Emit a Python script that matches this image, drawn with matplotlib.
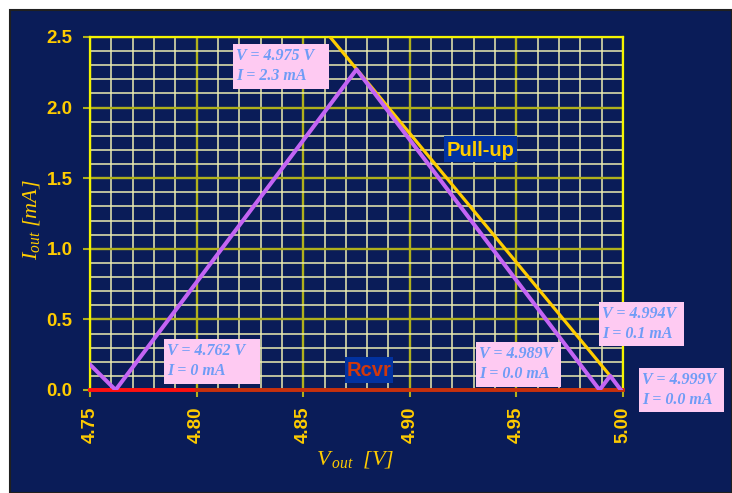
import matplotlib
matplotlib.use("Agg")
import matplotlib.pyplot as plt
from matplotlib.patches import Rectangle
from matplotlib.ticker import MultipleLocator

# Output current vs output voltage
pullup_v = [4.8626, 4.994]
pullup_i = [2.50, 0.10]

out_v = [4.750, 4.762, 4.875, 4.989, 4.994, 4.999]
out_i = [0.18, 0.00, 2.27, 0.00, 0.10, 0.00]

rcvr_v_a = [4.75, 4.80]
rcvr_v_b = [4.80, 5.00]
rcvr_i = [0.0, 0.0]

x_ticks = [4.75, 4.80, 4.85, 4.90, 4.95, 5.00]
y_ticks = [0.0, 0.5, 1.0, 1.5, 2.0, 2.5]

notes = [
    ("V = 4.975 V\nI = 2.3 mA", (233, 44, 96, 45)),
    ("V = 4.762 V\nI = 0 mA", (164, 339, 96, 45)),
    ("V = 4.989V\nI = 0.0 mA", (476, 342, 85, 45)),
    ("V = 4.994V\nI = 0.1 mA", (599, 302, 85, 44)),
    ("V = 4.999V\nI = 0.0 mA", (639, 368, 85, 44)),
]

W, H = 732, 493
NAVY = "#0a1c58"
GOLD = "#ffcc00"
NOTE_BLUE = "#6f9cf6"

plt.rcParams["mathtext.fontset"] = "custom"
plt.rcParams["mathtext.it"] = "Liberation Serif:italic"
plt.rcParams["mathtext.rm"] = "Liberation Serif:italic"

fig = plt.figure(figsize=(W / 100, H / 100), dpi=100)
fig.patch.set_facecolor("white")

def px_rect(x, y, w, h):
    return (x / W, 1 - (y + h) / H, w / W, h / H)

# dark panel behind the chart
fig.patches.append(Rectangle((10 / W, 0), 1 - 10 / W, 1 - 10 / H,
                             transform=fig.transFigure, facecolor=NAVY,
                             edgecolor="#202020", linewidth=1.5, zorder=-5))

ax = fig.add_axes([90 / W, 1 - 390 / H, (623 - 90) / W, (390 - 37) / H])
ax.set_zorder(1)
ax.set_facecolor(NAVY)
ax.set_xlim(4.75, 5.00)
ax.set_ylim(0, 2.5)

ax.xaxis.set_major_locator(MultipleLocator(0.05))
ax.xaxis.set_minor_locator(MultipleLocator(0.01))
ax.yaxis.set_major_locator(MultipleLocator(0.5))
ax.yaxis.set_minor_locator(MultipleLocator(0.1))
ax.grid(which="minor", color="#ececb0", linewidth=1.1, zorder=1)
ax.grid(which="major", color="#b0b01c", linewidth=1.7, zorder=1)
ax.set_axisbelow(True)

for side in ["left", "top", "right", "bottom"]:
    ax.spines[side].set_color("#f4f400")
    ax.spines[side].set_linewidth(1.6)

ax.set_xticks(x_ticks)
ax.set_yticks(y_ticks)
ax.set_xticklabels([f"{v:.2f}" for v in x_ticks], rotation=90)
ax.set_yticklabels([f"{v:.1f}" for v in y_ticks])
ax.tick_params(which="major", direction="out", length=5, width=1.5,
               color="#b0b01c", labelcolor=GOLD, labelsize=13.5)
ax.tick_params(axis="y", which="major", pad=7.5)
ax.tick_params(axis="x", which="major", pad=7)
ax.tick_params(which="minor", length=0)
for lab in ax.get_xticklabels() + ax.get_yticklabels():
    lab.set_fontweight("bold")
    lab.set_family("Liberation Sans")

ax.plot(rcvr_v_a, rcvr_i, color="#ff1010", linewidth=2.8, zorder=4, clip_on=False)
ax.plot(rcvr_v_b, rcvr_i, color="#c8300c", linewidth=2.8, zorder=4, clip_on=False)
ax.plot(pullup_v, pullup_i, color=GOLD, linewidth=2.3, zorder=5)
ax.plot(out_v, out_i, color="#c464f4", linewidth=2.9, zorder=6)

# series labels
for text, (x, y, w, h), col in [("Pull-up", (444, 136, 73, 26), GOLD),
                                ("Rcvr", (345, 357, 48, 26), "#d0380c")]:
    fig.patches.append(Rectangle(px_rect(x, y, w, h)[:2], w / W, h / H,
                                 transform=fig.transFigure, facecolor="#0232a0",
                                 edgecolor="none", zorder=7))
    fig.text((x + w / 2) / W, 1 - (y + h / 2 + 1) / H, text, color=col,
             fontsize=14.5, fontweight="bold", family="Liberation Sans",
             ha="center", va="center", zorder=8)

# value callouts
for text, (x, y, w, h) in notes:
    fig.patches.append(Rectangle(px_rect(x, y, w, h)[:2], w / W, h / H,
                                 transform=fig.transFigure, facecolor="#fecaf2",
                                 edgecolor="none", zorder=7))
    fig.text((x + 3) / W, 1 - (y + 4) / H, text, color=NOTE_BLUE,
             fontsize=11.5, fontweight="bold", fontstyle="italic",
             family="Liberation Serif", ha="left", va="top",
             linespacing=1.35, zorder=8)

# axis titles with subscripts
fig.text(355 / W, 1 - 460 / H, r"$V_{\,out}\ \ [V]$", color=GOLD,
         fontsize=16, ha="center", va="center")
fig.text(32 / W, 1 - 219 / H, r"$I_{out}\ [mA]$", color=GOLD,
         fontsize=16, ha="center", va="center", rotation=90)

fig.savefig("out.png", dpi=100, facecolor=fig.get_facecolor())
